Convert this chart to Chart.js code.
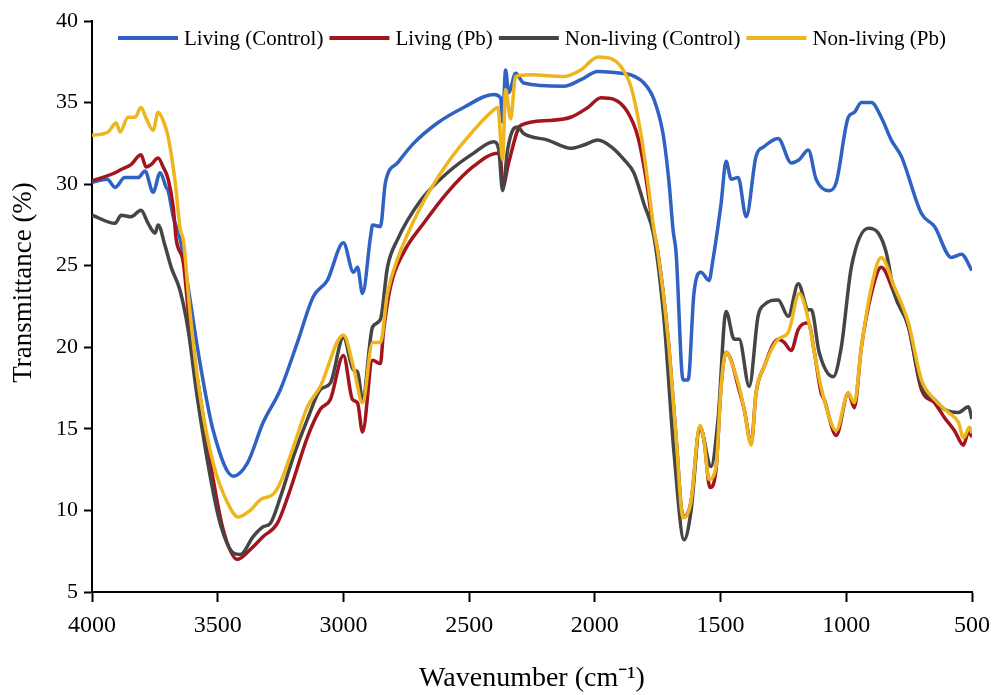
<!DOCTYPE html>
<html lang="en">
<head>
  <meta charset="UTF-8" />
  <title>FTIR Transmittance</title>
  <script src="https://cdn.jsdelivr.net/npm/chart.js"></script>
  <style>
    body {
      margin: 0;
      background: #fff;
    }
    #wrap {
      width: 993px;
      height: 695px;
    }
  </style>
</head>
<body>
  <div id="wrap">
    <canvas id="ftirChart" width="993" height="695"></canvas>
  </div>

  <script>
    // series names and colours
    const seriesNames = ['Living (Control)', 'Living (Pb)', 'Non-living (Control)', 'Non-living (Pb)'];
    const seriesColors = ['#2F62C2', '#A3151D', '#454545', '#EDB61E'];

    // y-axis ticks (%) and x-axis ticks (cm-1)
    const yTicks = [5, 10, 15, 20, 25, 30, 35, 40];
    const xTicks = [4000, 3500, 3000, 2500, 2000, 1500, 1000, 500];

    // Living (Control)
    const livingCtrlWn = [4000, 3940, 3908, 3870, 3817, 3789, 3757, 3729, 3705, 3697, 3677, 3649, 3622, 3570, 3518, 3438, 3382, 3319, 3251, 3183, 3120, 3064, 3000, 2960, 2944, 2924, 2892, 2884, 2853, 2833, 2785, 2721, 2626, 2522, 2402, 2375, 2367, 2355, 2343, 2315, 2283, 2124, 2056, 1988, 1896, 1857, 1805, 1765, 1729, 1705, 1689, 1677, 1649, 1629, 1606, 1578, 1546, 1530, 1498, 1478, 1458, 1430, 1398, 1359, 1327, 1271, 1219, 1187, 1151, 1120, 1068, 1040, 992, 968, 940, 900, 861, 821, 781, 701, 649, 582, 542, 500];
    const livingCtrlT = [30.1, 30.3, 29.8, 30.4, 30.4, 30.8, 29.5, 30.7, 29.8, 29.6, 28.0, 26.6, 24.1, 19.0, 14.9, 12.1, 12.9, 15.4, 17.4, 20.3, 23.1, 24.1, 26.4, 24.6, 24.9, 23.3, 26.8, 27.5, 27.4, 30.1, 31.3, 32.5, 33.75, 34.7, 35.5, 35.3, 33.8, 37.0, 35.6, 36.8, 36.2, 36.0, 36.4, 36.9, 36.8, 36.7, 36.2, 35.2, 33.1, 30.1, 27.2, 25.8, 18.0, 18.0, 23.3, 24.6, 24.1, 25.4, 28.8, 31.4, 30.3, 30.4, 28.0, 31.7, 32.3, 32.8, 31.3, 31.5, 32.1, 30.3, 29.6, 30.1, 34.1, 34.4, 35.0, 35.0, 34.1, 32.7, 31.7, 28.2, 27.4, 25.5, 25.7, 24.7];

    // Living (Pb)
    const livingPbWn = [4000, 3908, 3884, 3845, 3805, 3785, 3765, 3737, 3717, 3697, 3677, 3665, 3637, 3610, 3570, 3518, 3478, 3422, 3371, 3319, 3263, 3211, 3143, 3092, 3052, 3000, 2964, 2944, 2924, 2884, 2853, 2841, 2813, 2761, 2681, 2586, 2482, 2386, 2375, 2367, 2343, 2295, 2187, 2096, 2028, 1976, 1924, 1869, 1829, 1797, 1769, 1749, 1709, 1677, 1649, 1618, 1582, 1566, 1542, 1518, 1498, 1478, 1458, 1430, 1406, 1378, 1359, 1327, 1271, 1247, 1219, 1191, 1151, 1127, 1100, 1088, 1040, 992, 968, 940, 900, 861, 809, 753, 701, 649, 610, 570, 534, 514, 500];
    const livingPbT = [30.2, 30.7, 30.9, 31.2, 31.8, 31.05, 31.2, 31.6, 31.05, 30.3, 28.6, 26.6, 25.2, 21.1, 17.0, 11.9, 8.8, 7.0, 7.6, 8.4, 9.2, 11.3, 14.5, 16.2, 16.8, 19.5, 16.8, 16.6, 14.8, 19.2, 19.0, 20.9, 23.7, 25.8, 27.6, 29.5, 31.1, 31.9, 31.6, 29.8, 31.3, 33.6, 33.9, 34.1, 34.7, 35.3, 35.2, 34.4, 32.9, 30.4, 27.4, 25.8, 20.6, 14.5, 9.6, 10.5, 15.1, 14.3, 11.4, 12.5, 17.6, 19.7, 19.2, 17.6, 16.2, 14.1, 17.2, 18.8, 20.5, 20.3, 19.8, 21.1, 21.5, 19.7, 17.2, 16.8, 14.6, 17.2, 16.3, 20.0, 23.3, 24.9, 23.3, 21.25, 17.4, 16.6, 15.7, 14.9, 14.0, 14.8, 14.5];

    // Non-living (Control)
    const nonLivingCtrlWn = [4000, 3908, 3884, 3845, 3805, 3777, 3749, 3737, 3709, 3685, 3650, 3618, 3582, 3530, 3490, 3438, 3410, 3359, 3319, 3291, 3251, 3199, 3143, 3092, 3052, 3000, 2960, 2944, 2924, 2884, 2853, 2825, 2785, 2693, 2586, 2482, 2402, 2382, 2367, 2347, 2323, 2307, 2283, 2187, 2096, 2044, 1988, 1936, 1884, 1845, 1805, 1765, 1725, 1685, 1645, 1618, 1582, 1538, 1510, 1478, 1446, 1426, 1386, 1351, 1327, 1271, 1231, 1191, 1151, 1139, 1108, 1052, 1020, 980, 912, 873, 841, 809, 753, 701, 649, 610, 554, 514, 500];
    const nonLivingCtrlT = [28.1, 27.6, 28.1, 28.0, 28.4, 27.6, 27.0, 27.5, 26.2, 24.9, 23.5, 21.1, 17.0, 12.1, 9.2, 7.4, 7.3, 8.4, 9.0, 9.2, 10.8, 13.3, 15.6, 17.4, 17.8, 20.6, 18.6, 18.5, 16.8, 21.25, 21.7, 24.9, 26.6, 29.0, 30.7, 31.9, 32.6, 32.1, 29.6, 32.1, 33.4, 33.5, 33.1, 32.7, 32.2, 32.4, 32.7, 32.3, 31.5, 30.7, 28.8, 26.8, 21.7, 13.5, 8.2, 9.9, 15.1, 12.7, 15.6, 22.2, 20.5, 20.5, 17.6, 21.9, 22.6, 22.9, 21.9, 23.9, 22.3, 22.3, 19.7, 18.2, 20.0, 24.9, 27.3, 27.0, 25.8, 23.3, 21.3, 17.6, 16.8, 16.2, 16.0, 16.35, 15.6];

    // Non-living (Pb)
    const nonLivingPbWn = [4000, 3936, 3904, 3888, 3857, 3829, 3805, 3785, 3757, 3737, 3717, 3697, 3669, 3649, 3637, 3610, 3570, 3518, 3462, 3418, 3371, 3331, 3279, 3251, 3199, 3143, 3092, 3000, 2960, 2924, 2884, 2853, 2825, 2785, 2693, 2586, 2482, 2402, 2386, 2367, 2355, 2335, 2315, 2255, 2124, 2056, 1988, 1936, 1896, 1857, 1817, 1789, 1765, 1749, 1709, 1677, 1649, 1618, 1582, 1566, 1546, 1518, 1498, 1478, 1450, 1430, 1406, 1378, 1359, 1327, 1271, 1231, 1187, 1151, 1112, 1088, 1040, 992, 968, 940, 900, 861, 809, 753, 701, 649, 594, 554, 534, 510, 500];
    const nonLivingPbT = [33.0, 33.2, 33.75, 33.2, 34.1, 34.1, 34.7, 34.05, 33.3, 34.4, 33.9, 32.9, 30.1, 27.2, 26.6, 22.1, 17.0, 12.9, 10.5, 9.6, 10.0, 10.65, 11.0, 11.7, 13.9, 16.35, 17.6, 20.75, 18.8, 16.6, 20.3, 20.3, 23.3, 25.4, 28.6, 31.3, 33.3, 34.55, 34.7, 31.5, 35.8, 34.0, 36.6, 36.7, 36.6, 37.0, 37.8, 37.7, 37.2, 36.0, 33.1, 30.1, 27.2, 25.8, 20.6, 14.5, 9.55, 10.5, 15.2, 14.3, 11.9, 12.7, 17.6, 19.7, 18.8, 17.8, 16.2, 14.0, 17.2, 18.8, 20.5, 20.9, 23.3, 21.7, 18.4, 16.8, 14.9, 17.2, 16.6, 20.0, 23.7, 25.5, 23.7, 21.5, 18.0, 16.8, 16.0, 15.4, 14.45, 15.1, 14.75];

    const allWn = [livingCtrlWn, livingPbWn, nonLivingCtrlWn, nonLivingPbWn];
    const allT = [livingCtrlT, livingPbT, nonLivingCtrlT, nonLivingPbT];

    const serif = "'Liberation Serif', 'Times New Roman', serif";

    const datasets = seriesNames.map((name, i) => ({
      label: name,
      data: allWn[i].map((w, j) => ({ x: w, y: allT[i][j] })),
      borderColor: seriesColors[i],
      backgroundColor: seriesColors[i],
      borderWidth: 3.5,
      pointRadius: 0,
      cubicInterpolationMode: 'monotone',
      fill: false,
      // later series drawn on top, like the original
      order: seriesNames.length - i
    }));

    // legend inside the plot along its top edge, plus the y title a bit above centre
    const extras = {
      id: 'extras',
      afterDatasetsDraw(chart) {
        const c = chart.ctx;
        const area = chart.chartArea;
        const lineLen = 60, gapText = 6, gapItem = 6;
        c.save();
        c.font = '21px ' + serif;
        c.textBaseline = 'middle';
        const widths = chart.data.datasets.map(d => c.measureText(d.label).width);
        let total = 0;
        widths.forEach(w => { total += lineLen + gapText + w; });
        total += gapItem * (widths.length - 1);
        let x = (area.left + area.right) / 2 - total / 2;
        const y = area.top + 17;
        chart.data.datasets.forEach((d, i) => {
          c.strokeStyle = d.borderColor;
          c.lineWidth = 4;
          c.beginPath();
          c.moveTo(x, y);
          c.lineTo(x + lineLen, y);
          c.stroke();
          x += lineLen + gapText;
          c.fillStyle = '#000';
          c.fillText(d.label, x, y + 1);
          x += widths[i] + gapItem;
        });
        c.restore();

        c.save();
        c.translate(24, (area.top + area.bottom) / 2 - 24);
        c.rotate(-Math.PI / 2);
        c.font = '27px ' + serif;
        c.fillStyle = '#000';
        c.textAlign = 'center';
        c.textBaseline = 'middle';
        c.fillText('Transmittance (%)', 0, 0);
        c.restore();
      }
    };

    const ctx = document.getElementById('ftirChart').getContext('2d');
    new Chart(ctx, {
      type: 'line',
      data: { datasets: datasets },
      plugins: [extras],
      options: {
        responsive: false,
        animation: false,
        layout: {
          padding: { top: 21, right: 21, left: 0, bottom: 0 }
        },
        plugins: {
          tooltip: { enabled: false },
          legend: { display: false }
        },
        scales: {
          x: {
            type: 'linear',
            reverse: true,
            min: 500,
            max: 4000,
            afterBuildTicks: s => { s.ticks = xTicks.map(v => ({ value: v })); },
            afterFit: s => {
              s.height = 103;
              s.paddingLeft = 0;
              s.paddingRight = 0;
            },
            border: { display: true, color: '#000', width: 2 },
            grid: {
              display: true,
              drawOnChartArea: false,
              drawTicks: true,
              tickLength: 10,
              tickWidth: 2,
              tickColor: '#000'
            },
            ticks: {
              color: '#000',
              padding: 9,
              maxRotation: 0,
              font: { family: serif, size: 24 },
              callback: v => String(v)
            },
            title: {
              display: true,
              text: 'Wavenumber (cm\u207B\u00B9)',
              color: '#000',
              padding: { top: 22 },
              font: { family: serif, size: 28, lineHeight: 0.85 }
            }
          },
          y: {
            min: 5,
            max: 40,
            afterBuildTicks: s => { s.ticks = yTicks.map(v => ({ value: v })); },
            afterFit: s => { s.width = 92; },
            border: { display: true, color: '#000', width: 2 },
            grid: {
              display: true,
              drawOnChartArea: false,
              drawTicks: true,
              tickLength: 8,
              tickWidth: 2,
              tickColor: '#000'
            },
            ticks: {
              color: '#000',
              padding: 6,
              font: { family: serif, size: 22 }
            },
            title: { display: false }
          }
        }
      }
    });
  </script>
</body>
</html>
